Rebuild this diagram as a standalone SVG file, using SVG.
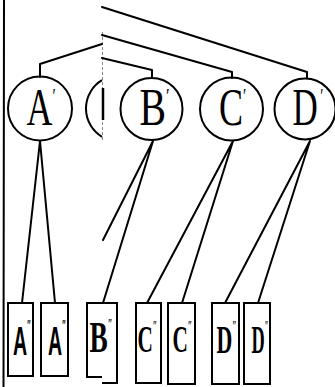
<svg xmlns="http://www.w3.org/2000/svg" width="335" height="387" viewBox="0 0 335 387">
<style>
.ln{fill:none;stroke:#000;stroke-width:2;stroke-linecap:round;stroke-linejoin:round}
.nd{fill:none;stroke:#000;stroke-width:2}
.bx{fill:none;stroke:#000;stroke-width:2;stroke-linejoin:miter}
.cl{font-family:"Liberation Serif","DejaVu Serif",serif;font-size:53px;fill:#000}
.bl{font-family:"Liberation Serif","DejaVu Serif",serif;font-weight:bold;fill:#000}
.sa{font-family:"Liberation Sans","DejaVu Sans",sans-serif;font-weight:bold;font-size:40px;fill:#000}
.pr{font-size:22px}
.pb{font-size:14px}
</style>
<rect width="335" height="387" fill="#fff"/>
<g id="connectors">
<line class="ln" x1="4" y1="0" x2="3.5" y2="387"/>
<line x1="102.5" y1="32" x2="102.5" y2="140" stroke="#888" stroke-width="1" stroke-dasharray="3 2"/>
<polyline class="ln" points="102,7 307,72 307,78"/>
<polyline class="ln" points="102,35 232,72 232,78"/>
<polyline class="ln" points="102,58 152,70 152,78"/>
<polyline class="ln" points="102,44 40,64 40,77"/>
<polyline class="ln" points="22,303 40,141 55,303"/>
<polyline class="ln" points="103,240 153,141 103,303"/>
<polyline class="ln" points="147,303 233,141 182,303"/>
<polyline class="ln" points="225,303 310,141 258,303"/>
</g>
<g id="nodeA1">
<circle class="nd" cx="40" cy="108.5" r="32"/>
<text class="cl" transform="translate(26.5,125) scale(0.68,1)">A<tspan class="pr" dy="-22">′</tspan></text>
</g>
<g id="partial">
<path class="nd" d="M102,80.2 A33,33 0 0 0 102,136.8"/>
<line x1="103" y1="88" x2="103" y2="120" stroke="#000" stroke-width="2.5"/>
</g>
<g id="nodeB1">
<circle class="nd" cx="151.5" cy="109" r="31"/>
<text class="cl" transform="translate(139.4,125) scale(0.75,1)">B<tspan class="pr" dy="-22">′</tspan></text>
</g>
<g id="nodeC1">
<circle class="nd" cx="231.5" cy="109" r="31.5"/>
<text class="cl" transform="translate(219,125) scale(0.68,1)">C<tspan class="pr" dy="-22">′</tspan></text>
</g>
<g id="nodeD1">
<circle class="nd" cx="305" cy="109" r="30.5"/>
<text class="cl" transform="translate(292.4,125) scale(0.66,1)">D<tspan class="pr" dx="4" dy="-22">′</tspan></text>
</g>
<g id="boxA1">
<rect class="bx" x="8" y="303" width="25" height="73"/>
<text class="sa" transform="translate(13,355) scale(0.49,1)">A<tspan class="pb" dy="-25">″</tspan></text>
</g>
<g id="boxA2">
<rect class="bx" x="41" y="303" width="27" height="73"/>
<text class="sa" transform="translate(48,355) scale(0.49,1)">A<tspan class="pb" dy="-25">″</tspan></text>
</g>
<g id="boxB">
<path class="bx" d="M102,383 H117 V303 H87 V377 H102"/>
<text class="bl" font-size="44" transform="translate(89.5,352) scale(0.62,1)">B<tspan class="pb" dy="-23">″</tspan></text>
</g>
<g id="boxC1">
<rect class="bx" x="136" y="303" width="25" height="80"/>
<text class="bl" font-size="38" transform="translate(137.4,352) scale(0.56,1)">C<tspan class="pb" dy="-21">″</tspan></text>
</g>
<g id="boxC2">
<rect class="bx" x="168" y="303" width="27" height="81"/>
<text class="bl" font-size="38" transform="translate(172.4,352) scale(0.56,1)">C<tspan class="pb" dy="-21">″</tspan></text>
</g>
<g id="boxD1">
<rect class="bx" x="212" y="303" width="27" height="81"/>
<text class="bl" font-size="39" transform="translate(216.6,353) scale(0.56,1)">D<tspan class="pb" dy="-22">″</tspan></text>
</g>
<g id="boxD2">
<rect class="bx" x="244" y="303" width="26" height="81"/>
<text class="bl" font-size="39" transform="translate(251.5,353) scale(0.47,1)">D<tspan class="pb" dy="-22">″</tspan></text>
</g>
</svg>
